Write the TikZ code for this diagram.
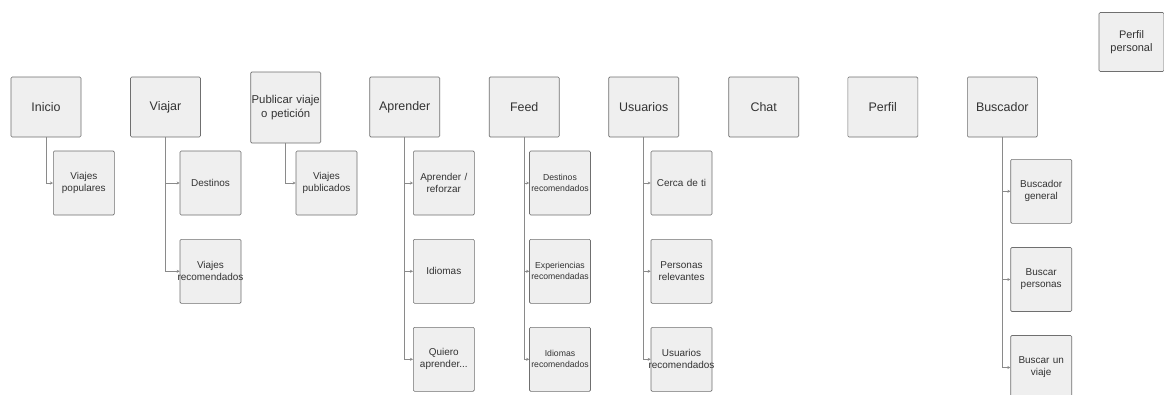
\documentclass[tikz,border=0pt]{standalone}
\usepackage{fontspec}
\setmainfont{Liberation Sans}
\usepackage{xcolor}
\definecolor{edge}{HTML}{6F6F6F}
\definecolor{wire}{HTML}{8A8A8A}
\definecolor{panel}{HTML}{EFEFEF}
\definecolor{ink}{HTML}{333333}
\usepackage{tikz}
\usetikzlibrary{arrows.meta}

\begin{document}
\begin{tikzpicture}[x=1bp,y=-1bp,>={Stealth[length=3bp,width=3bp]},
  menu/.style={draw=edge,fill=panel,rectangle,rounded corners=1.2bp,line width=0.6bp,
    text width=70bp,minimum height=60bp,inner sep=0bp,align=center,text=ink,font=\fontsize{12.5}{14.5}\selectfont},
  sub/.style={draw=edge,fill=panel,rectangle,rounded corners=1.2bp,line width=0.6bp,
    text width=61bp,minimum height=64bp,inner sep=0bp,align=center,text=ink,font=\fontsize{10}{12}\selectfont},
  small/.style={font=\fontsize{8.7}{11}\selectfont},
  link/.style={->,draw=wire,line width=0.6bp}]
\clip (0,0) rectangle (1164,394);
\fill[white] (0,0) rectangle (1164,394);
\node[menu] (A) at (46,107) {Inicio};
\node[menu] (B) at (165.5,107) {Viajar};
\node[menu,minimum height=71bp,font=\fontsize{11.4}{14}\selectfont] (C) at (285.7,107.5) {Publicar viaje\\o petición};
\node[menu] (D) at (404.7,107) {Aprender};
\node[menu] (E) at (524.2,107) {Feed};
\node[menu] (F) at (643.7,107) {Usuarios};
\node[menu] (G) at (763.7,107) {Chat};
\node[menu] (H) at (882.8,107) {Perfil};
\node[menu,text width=65bp,minimum height=59bp,font=\fontsize{11}{13.5}\selectfont] (J) at (1131.5,42) {Perfil\\personal};
\node[menu] (I) at (1002.3,107) {Buscador};
\node[sub] (A1) at (83.8,183) {Viajes\\populares};
\node[sub] (B1) at (210.5,183) {Destinos};
\node[sub] (B2) at (210.5,271.3) {Viajes\\\makebox[0pt]{recomendados}};
\node[sub] (C1) at (326.5,183) {Viajes\\publicados};
\node[sub] (D1) at (443.8,183) {Aprender /\\reforzar};
\node[sub] (D2) at (443.8,271.3) {Idiomas};
\node[sub] (D3) at (443.8,359.3) {Quiero\\aprender...};
\node[sub,small] (E1) at (560,183) {Destinos\\recomendados};
\node[sub,small] (E2) at (560,271.3) {Experiencias\\recomendadas};
\node[sub,small] (E3) at (560,359.3) {Idiomas\\recomendados};
\node[sub] (F1) at (681.5,183) {Cerca de ti};
\node[sub] (F2) at (681.5,271.3) {Personas\\relevantes};
\node[sub] (F3) at (681.5,359.3) {Usuarios\\\makebox[0pt]{recomendados}};
\node[sub] (I1) at (1041.2,191.3) {Buscador\\general};
\node[sub] (I2) at (1041.2,279.5) {Buscar\\personas};
\node[sub] (I3) at (1041.2,367.5) {Buscar un\\viaje};
\draw[link] (A.south) |- (A1.west);
\draw[link] (B.south) |- (B1.west);
\draw[link] (B.south) |- (B2.west);
\draw[link] (C.south) |- (C1.west);
\draw[link] (D.south) |- (D1.west);
\draw[link] (D.south) |- (D2.west);
\draw[link] (D.south) |- (D3.west);
\draw[link] (E.south) |- (E1.west);
\draw[link] (E.south) |- (E2.west);
\draw[link] (E.south) |- (E3.west);
\draw[link] (F.south) |- (F1.west);
\draw[link] (F.south) |- (F2.west);
\draw[link] (F.south) |- (F3.west);
\draw[link] (I.south) |- (I1.west);
\draw[link] (I.south) |- (I2.west);
\draw[link] (I.south) |- (I3.west);
\end{tikzpicture}
\end{document}
